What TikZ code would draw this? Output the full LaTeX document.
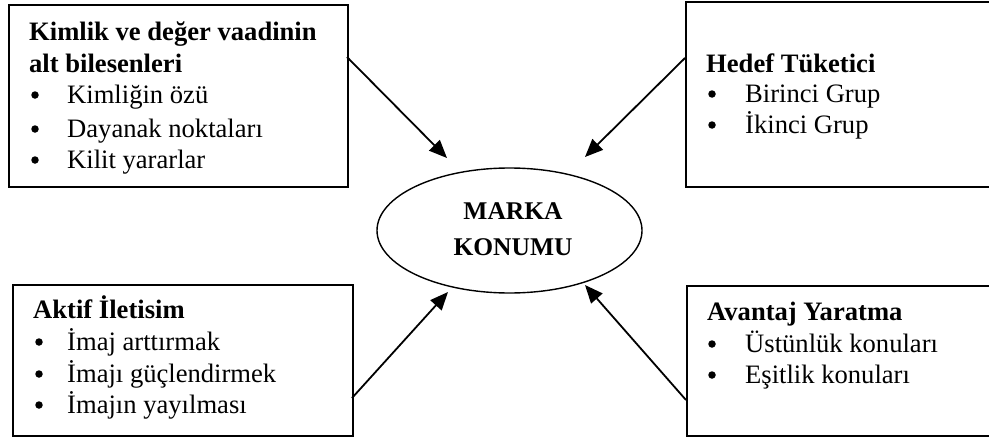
\documentclass[tikz,border=0pt]{standalone}
\usepackage{fontspec}
\setmainfont{Liberation Serif}
\usetikzlibrary{arrows.meta,shapes.geometric}
\begin{document}
\begin{tikzpicture}[x=1pt,y=-1pt,
  box/.style={draw,line width=1.8pt,rectangle,inner sep=0pt,anchor=north west},
  ttl/.style={inner sep=0pt,anchor=base west,font=\fontsize{26.6}{31}\selectfont\bfseries},
  itm/.style={inner sep=0pt,anchor=base west,font=\fontsize{26.6}{31}\selectfont},
  bul/.style={circle,fill,inner sep=0pt,minimum size=7.5pt},
  arr/.style={line width=1.8pt,-{Triangle[length=18pt,width=15pt]}},
  oval/.style={draw,ellipse,line width=1.4pt,minimum width=265pt,minimum height=125pt,inner sep=0pt},
  ctr/.style={inner sep=0pt,anchor=base,font=\fontsize{25.5}{35}\selectfont\bfseries}]
\useasboundingbox (0,0) rectangle (989,439);
\clip (0,0) rectangle (989,439);
\fill[white] (0,0) rectangle (989,439);
% boxes
\node[box,minimum width=339pt,minimum height=182pt] (tl) at (8,4) {};
\node[box,minimum width=320pt,minimum height=185pt] (tr) at (685,1) {};
\node[box,minimum width=340pt,minimum height=151pt] (bl) at (12,284) {};
\node[box,minimum width=320pt,minimum height=150pt] (br) at (686,285) {};
% ellipse
\node[oval] (m) at (509.5,230.5) {};
\node[ctr] (m1) at (513,219) {MARKA};
\node[ctr] (m2) at (513,255) {KONUMU};
% top-left text
\node[ttl] (tl1) at (29,40) {Kimlik ve değer vaadinin};
\node[ttl] (tl2) at (29,72) {alt bilesenleri};
\node[bul] (tlb1) at (35,95) {};
\node[itm] (tli1) at (67,103) {Kimliğin özü};
\node[bul] (tlb2) at (35,129) {};
\node[itm] (tli2) at (67,137) {Dayanak noktaları};
\node[bul] (tlb3) at (35,160) {};
\node[itm] (tli3) at (67,168) {Kilit yararlar};
% top-right text
\node[ttl] (tr1) at (706,72) {Hedef Tüketici};
\node[bul] (trb1) at (712,94) {};
\node[itm] (tri1) at (745,102) {Birinci Grup};
\node[bul] (trb2) at (712,125) {};
\node[itm] (tri2) at (745,133) {İkinci Grup};
% bottom-left text
\node[ttl] (bl1) at (33,318) {Aktif İletisim};
\node[bul] (blb1) at (39,342) {};
\node[itm] (bli1) at (67,350) {İmaj arttırmak};
\node[bul] (blb2) at (39,374) {};
\node[itm] (bli2) at (67,382) {İmajı güçlendirmek};
\node[bul] (blb3) at (39,405) {};
\node[itm] (bli3) at (67,413) {İmajın yayılması};
% bottom-right text
\node[ttl] (br1) at (707,320) {Avantaj Yaratma};
\node[bul] (brb1) at (712,344) {};
\node[itm] (bri1) at (745,352) {Üstünlük konuları};
\node[bul] (brb2) at (712,375) {};
\node[itm] (bri2) at (745,383) {Eşitlik konuları};
% connector ends
\coordinate (s1) at (347,57);
\coordinate (e1) at (447,158);
\coordinate (s2) at (685,58);
\coordinate (e2) at (585,157);
\coordinate (s3) at (352,398);
\coordinate (e3) at (448,292);
\coordinate (s4) at (686,400);
\coordinate (e4) at (585,285);
\draw[arr] (s1) -- (e1);
\draw[arr] (s2) -- (e2);
\draw[arr] (s3) -- (e3);
\draw[arr] (s4) -- (e4);
\end{tikzpicture}
\end{document}
